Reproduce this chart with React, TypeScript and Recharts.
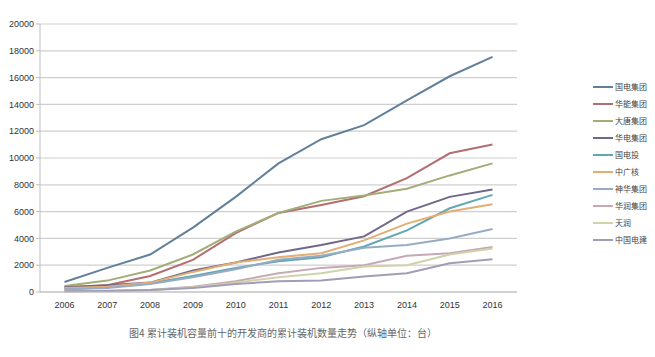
import React from 'react';
import { LineChart, Line, XAxis, YAxis, CartesianGrid, Legend } from 'recharts';

const years = ['2006','2007','2008','2009','2010','2011','2012','2013','2014','2015','2016'];
const guodian = [750, 1800, 2800, 4800, 7100, 9600, 11400, 12450, 14300, 16100, 17550];
const huaneng = [350, 500, 1200, 2400, 4400, 5900, 6500, 7150, 8500, 10350, 11000];
const datang = [450, 850, 1600, 2800, 4500, 5900, 6800, 7200, 7700, 8700, 9600];
const huadian = [350, 500, 700, 1600, 2200, 2950, 3500, 4150, 6000, 7100, 7650];
const guodiantou = [200, 350, 650, 1200, 1800, 2300, 2600, 3400, 4600, 6250, 7250];
const zhongguanghe = [300, 400, 700, 1500, 2200, 2600, 2900, 3850, 5100, 6000, 6550];
const shenhua = [200, 300, 600, 1100, 1700, 2400, 2700, 3300, 3500, 4000, 4700];
const huarun = [50, 100, 150, 400, 800, 1400, 1800, 2000, 2700, 2900, 3350];
const tianrun = [50, 80, 150, 350, 700, 1100, 1400, 1900, 2000, 2800, 3250];
const zhongguodianjian = [50, 80, 150, 300, 600, 800, 850, 1150, 1400, 2150, 2450];
const yTicks = [0, 2000, 4000, 6000, 8000, 10000, 12000, 14000, 16000, 18000, 20000];

const seriesList = [
  { key: '国电集团', values: guodian, color: '#62809a' },
  { key: '华能集团', values: huaneng, color: '#b46d70' },
  { key: '大唐集团', values: datang, color: '#a3ad78' },
  { key: '华电集团', values: huadian, color: '#716889' },
  { key: '国电投', values: guodiantou, color: '#62a7b1' },
  { key: '中广核', values: zhongguanghe, color: '#e2ae74' },
  { key: '神华集团', values: shenhua, color: '#98abc4' },
  { key: '华润集团', values: huarun, color: '#c5a9b3' },
  { key: '天润', values: tianrun, color: '#d0d2aa' },
  { key: '中国电建', values: zhongguodianjian, color: '#a29db6' },
];

const data = years.map((y, i) => {
  const row: Record<string, any> = { year: y };
  seriesList.forEach((s) => { row[s.key] = s.values[i]; });
  return row;
});

const LegendContent = () => (
  <div style={{ fontFamily: '"Noto Sans CJK SC", sans-serif', fontSize: 8, color: '#444' }}>
    {seriesList.map((s) => (
      <div key={s.key} style={{ display: 'flex', alignItems: 'center', height: 17 }}>
        <div style={{ width: 20, height: 2, background: s.color, marginRight: 2 }} />
        <span style={{ lineHeight: '17px' }}>{s.key}</span>
      </div>
    ))}
  </div>
);

export default function App() {
  return (
    <div style={{ position: 'absolute', left: 0, top: 0, width: 655, height: 357, background: '#fff' }}>
      <LineChart width={655} height={357} data={data} margin={{ top: 24, right: 76, left: 0, bottom: 35 }}>
        <CartesianGrid vertical={false} stroke="#cfcfcf" strokeWidth={1.2} />
        <XAxis
          dataKey="year"
          height={30}
          padding={{ left: 24.5, right: 24.5 }}
          tickLine={false}
          axisLine={{ stroke: '#bdbdbd' }}
          tick={{ fontSize: 9, fill: '#333', fontFamily: '"Liberation Sans", Arial, sans-serif' }}
          tickMargin={4}
          interval={0}
        />
        <YAxis
          width={40}
          domain={[0, 20000]}
          ticks={yTicks}
          interval={0}
          tickSize={4}
          tickLine={{ stroke: '#bdbdbd' }}
          axisLine={{ stroke: '#bdbdbd' }}
          tick={{ fontSize: 9, fill: '#333', fontFamily: '"Liberation Sans", Arial, sans-serif' }}
          tickMargin={2}
        />
        <Legend
          layout="vertical"
          verticalAlign="top"
          align="right"
          content={<LegendContent />}
          wrapperStyle={{ position: 'absolute', left: 593, top: 78, width: 62 }}
        />
        {seriesList.map((s) => (
          <Line
            key={s.key}
            type="linear"
            dataKey={s.key}
            stroke={s.color}
            strokeWidth={2}
            dot={false}
            activeDot={false}
            isAnimationActive={false}
          />
        ))}
      </LineChart>
      <div
        style={{
          position: 'absolute',
          left: 0,
          width: 566,
          top: 325,
          textAlign: 'center',
          fontFamily: '"Noto Sans CJK SC", sans-serif',
          fontSize: 10,
          color: '#666',
        }}
      >
        图4 累计装机容量前十的开发商的累计装机数量走势（纵轴单位：台）
      </div>
    </div>
  );
}
